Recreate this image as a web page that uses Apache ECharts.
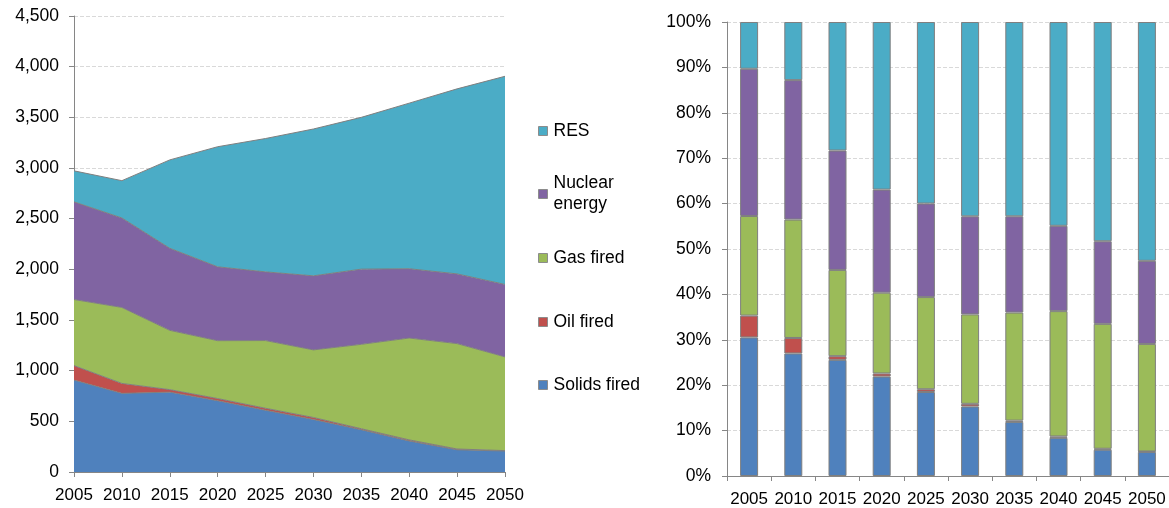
<!DOCTYPE html>
<html>
<head>
<meta charset="utf-8">
<script src="https://cdn.jsdelivr.net/npm/echarts@6/dist/echarts.min.js"></script>
<style>
  html, body { margin: 0; padding: 0; background: #fff; }
  #chart { width: 1169px; height: 508px; }
</style>
</head>
<body>
<div id="chart"></div>
<script>
// data
var years = ['2005', '2010', '2015', '2020', '2025', '2030', '2035', '2040', '2045', '2050'];
var solids = [907, 776, 788, 703, 609, 518, 417, 306, 219, 207];
var oil = [143, 98, 25, 22, 20, 20, 10, 11, 8, 4];
var gas = [652, 750, 585, 571, 668, 667, 833, 1005, 1040, 925];
var nuclear = [964, 883, 810, 729, 678, 731, 742, 684, 688, 715];
var res = [306, 368, 872, 1185, 1316, 1449, 1498, 1634, 1826, 2054];

var names = ['Solids fired', 'Oil fired', 'Gas fired', 'Nuclear energy', 'RES'];
var colors = ['#4f81bd', '#c0504d', '#9bbb59', '#8064a2', '#4bacc6'];
var values = [solids, oil, gas, nuclear, res];

var totals = years.map(function (y, i) {
    var t = 0;
    values.forEach(function (v) { t += v[i]; });
    return t;
});

var chart = echarts.init(document.getElementById('chart'));

var font = 'Liberation Sans, Arial, sans-serif';
var axisGray = '#868686';
var gridGray = '#d9d9d9';

var series = [];
values.forEach(function (v, k) {
    series.push({
        name: names[k],
        type: 'line',
        stack: 'abs',
        xAxisIndex: 0,
        yAxisIndex: 0,
        symbol: 'none',
        data: v,
        lineStyle: { color: '#7f7f7f', width: 1 },
        areaStyle: { color: colors[k], opacity: 1 },
        itemStyle: { color: colors[k] },
        z: 2
    });
});
values.forEach(function (v, k) {
    series.push({
        name: names[k],
        type: 'bar',
        stack: 'pct',
        xAxisIndex: 1,
        yAxisIndex: 1,
        barWidth: 18,
        data: v.map(function (x, i) { return x / totals[i] * 100; }),
        itemStyle: { color: colors[k], borderColor: '#7f7f7f', borderWidth: 1 }
    });
});

// one legend per item so they can sit where the original puts them
var legendTops = [
    { name: 'RES', center: 131 },
    { name: 'Nuclear energy', center: 194, label: 'Nuclear\nenergy' },
    { name: 'Gas fired', center: 258 },
    { name: 'Oil fired', center: 322 },
    { name: 'Solids fired', center: 385 }
];
var lh = 21;
var legends = legendTops.map(function (l) {
    var two = !!l.label;
    return {
        data: [l.name],
        left: 538,
        top: two ? l.center - lh * 1.5 : l.center - lh / 2,
        padding: 0,
        icon: 'rect',
        itemWidth: 9,
        itemHeight: 9,
        itemGap: 0,
        selectedMode: false,
        itemStyle: { borderColor: '#8c8c8c', borderWidth: 1 },
        formatter: function () { return l.label || l.name; },
        textStyle: {
            fontFamily: font,
            fontSize: 17.5,
            color: '#000',
            lineHeight: lh,
            padding: two ? [lh, 0, 0, 1] : [0, 0, 0, 1]
        }
    };
});

var option = {
    animation: false,
    color: colors,
    legend: legends,
    grid: [
        { left: 74, right: 664, top: 16, bottom: 36 },
        { left: 727, right: 0, top: 22, bottom: 30 }
    ],
    xAxis: [{
        type: 'category',
        gridIndex: 0,
        data: years,
        boundaryGap: false,
        axisLine: { lineStyle: { color: axisGray } },
        axisTick: { show: true, length: 5, interval: 0, lineStyle: { color: axisGray } },
        axisLabel: { fontFamily: font, fontSize: 17, color: '#000', margin: 15, interval: 0 }
    }, {
        type: 'category',
        gridIndex: 1,
        data: years,
        axisLine: { lineStyle: { color: axisGray } },
        axisTick: { show: true, length: 5, interval: 0, lineStyle: { color: axisGray } },
        axisLabel: { fontFamily: font, fontSize: 17, color: '#000', margin: 15, interval: 0 }
    }],
    yAxis: [{
        type: 'value',
        gridIndex: 0,
        min: 0,
        max: 4500,
        interval: 500,
        axisLine: { show: true, lineStyle: { color: axisGray } },
        axisTick: { show: true, length: 5, lineStyle: { color: axisGray } },
        splitLine: { lineStyle: { color: gridGray, type: 'dashed' } },
        axisLabel: {
            fontFamily: font, fontSize: 17.5, color: '#000', margin: 15,
            formatter: function (v) { return v.toLocaleString('en-US'); }
        }
    }, {
        type: 'value',
        gridIndex: 1,
        min: 0,
        max: 100,
        interval: 10,
        axisLine: { show: true, lineStyle: { color: axisGray } },
        axisTick: { show: true, length: 5, lineStyle: { color: axisGray } },
        splitLine: { lineStyle: { color: gridGray, type: 'dashed' } },
        axisLabel: { fontFamily: font, fontSize: 17.5, color: '#000', margin: 16, formatter: '{value}%' }
    }],
    series: series
};

chart.setOption(option);
</script>
</body>
</html>
